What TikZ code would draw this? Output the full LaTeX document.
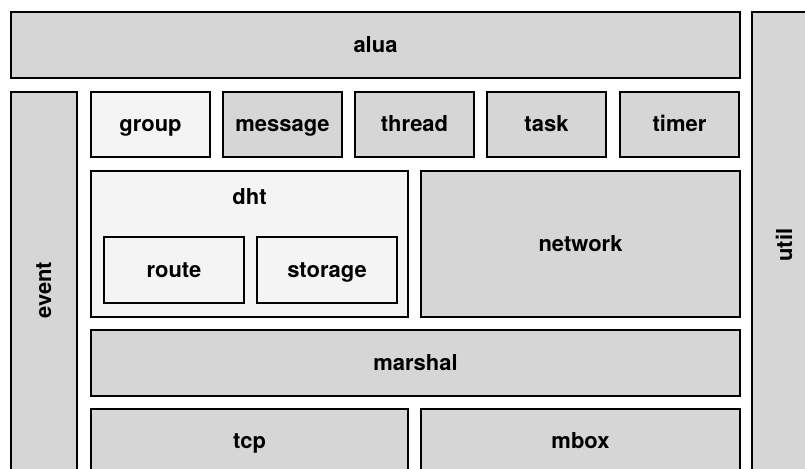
\documentclass[tikz,border=0pt]{standalone}
\usepackage{fontspec}
\setmainfont{TeX Gyre Heros}
\usepackage{xcolor}
\usepackage{tikz}
\usetikzlibrary{positioning}

\definecolor{layergray}{RGB}{214,214,214}
\definecolor{modfill}{RGB}{244,244,244}

\begin{document}
\begin{tikzpicture}[x=0.02cm,y=-0.02cm,
    layer/.style={draw=black, line width=1pt, fill=layergray},
    module/.style={draw=black, line width=1pt, fill=modfill},
    lbl/.style={font=\fontsize{12.5}{14}\selectfont\bfseries, inner sep=0pt,
                text height=1em, text depth=0.2em}]
\clip (0,0) rectangle (805,469);
% Top and side layers
\draw[layer] (11,12) rectangle (740,78);
\node[lbl] (alua) at (375.5,45) {alua};
\draw[layer] (752,12) rectangle (818,478);
\node[lbl, rotate=90] (util) at (785,245) {util};
\draw[layer] (11,92) rectangle (77,488);
\node[lbl, rotate=90] (event) at (44,290) {event};
% Top row of modules
\draw[module] (91,92) rectangle (210,157);
\node[lbl] (group) at (150.5,124.5) {group};
\foreach \x/\name in {223/message, 355/thread, 487/task, 620/timer} {
    \draw[layer] (\x,92) rectangle (\x+119,157);
    \node[lbl] (\name) at (\x+59.5,124.5) {\name};
}
% dht with its parts
\draw[module] (91,171) rectangle (408,317);
\node[lbl] (dht) at (249.5,197) {dht};
\draw[module] (104,237) rectangle (244,303);
\node[lbl] (route) at (174,270) {route};
\draw[module] (257,237) rectangle (397,303);
\node[lbl] (storage) at (327,270) {storage};
\draw[layer] (421,171) rectangle (740,317);
\node[lbl] (network) at (580.5,244) {network};
% Lower layers
\draw[layer] (91,330) rectangle (740,396);
\node[lbl] (marshal) at (415.5,363) {marshal};
\draw[layer] (91,409) rectangle (408,473);
\node[lbl] (tcp) at (249.5,441) {tcp};
\draw[layer] (421,409) rectangle (740,473);
\node[lbl] (mbox) at (580.5,441) {mbox};
\end{tikzpicture}
\end{document}
